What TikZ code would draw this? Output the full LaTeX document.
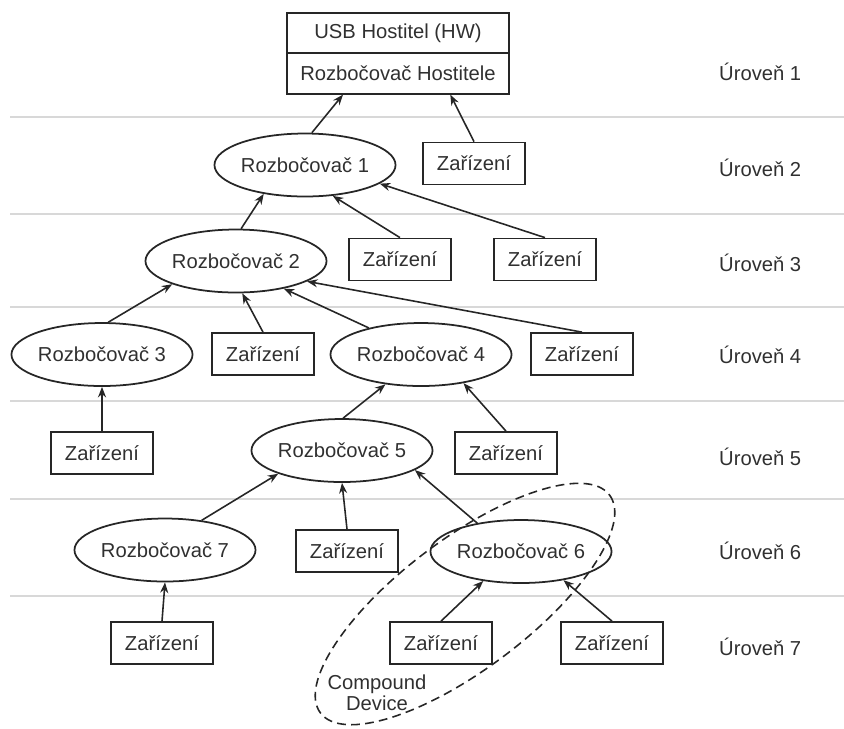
\documentclass[tikz,border=0pt]{standalone}
\usepackage{fontspec}
\setmainfont{Liberation Sans}
\usepackage{xcolor}
\usepackage{tikz}
\usetikzlibrary{positioning,shapes,arrows,arrows.meta}

\definecolor{ink}{HTML}{262626}
\definecolor{txt}{HTML}{303030}
\definecolor{rule}{HTML}{D8D8D8}

\begin{document}
\begin{tikzpicture}[x=0.02cm, y=-0.02cm, >={Stealth[length=6pt,width=4.6pt]}, auto,
    every node/.style={font=\fontsize{11.5}{12}\selectfont, text=txt},
    hub/.style={draw=ink, line width=1pt, ellipse, minimum width=3.12cm, minimum height=1.26cm, inner sep=0pt},
    dev/.style={draw=ink, line width=1pt, rectangle, minimum width=2.04cm, minimum height=0.84cm, inner sep=0pt},
    hostbox/.style={draw=ink, line width=1pt, rectangle, minimum width=4.44cm, minimum height=0.81cm, inner sep=0pt},
    link/.style={->, draw=ink, line width=0.9pt},
    band/.style={draw=rule, line width=0.8pt},
    level/.style={anchor=west}]
            \useasboundingbox (0,0) rectangle (844,728);

            % level bands
            \foreach \y in {117,214,307,401,499,596}
                \draw[band] (10,\y) -- (844,\y);
            \foreach \n/\y in {1/72,2/168,3/263,4/355,5/457,6/551,7/647}
                \node[level] (lvl\n) at (713,\y) {Úroveň \n};

            \node[hostbox] (hosthw) at (398,33) {USB Hostitel (HW)};
            \node[hostbox] (roothub) at (398,73.5) {Rozbočovač Hostitele};

            \node[hub] (hub1) at (305,165) {Rozbočovač 1};
            \node[dev] (dev2) at (474,163.5) {Zařízení};

            \node[hub] (hub2) at (236,261) {Rozbočovač 2};
            \node[dev] (dev3a) at (400,259.5) {Zařízení};
            \node[dev] (dev3b) at (545,259.5) {Zařízení};

            \node[hub] (hub3) at (102,354.5) {Rozbočovač 3};
            \node[dev] (dev4a) at (263,354) {Zařízení};
            \node[hub] (hub4) at (421,354.5) {Rozbočovač 4};
            \node[dev] (dev4b) at (582,354) {Zařízení};

            \node[dev] (dev5a) at (102,453) {Zařízení};
            \node[hub] (hub5) at (342,450.5) {Rozbočovač 5};
            \node[dev] (dev5b) at (506,453) {Zařízení};

            \node[hub] (hub7) at (165,550) {Rozbočovač 7};
            \node[dev] (dev6a) at (347,551) {Zařízení};
            \node[hub] (hub6) at (521,551.5) {Rozbočovač 6};

            \node[dev] (dev7a) at (162,643) {Zařízení};
            \node[dev] (dev7b) at (441,643) {Zařízení};
            \node[dev] (dev7c) at (612,643) {Zařízení};

            \draw[link] (hub1.78) -- (roothub.201);
            \draw[link] (dev2.north) -- (roothub.338);
            \draw[link] (hub2.81) -- (hub1.215);
            \draw[link] (dev3a.north) -- (hub1.312);
            \draw[link] (dev3b.north) -- (hub1.346);
            \draw[link] (hub3.79) -- (hub2.200);
            \draw[link] (dev4a.north) -- (hub2.281);
            \draw[link] (hub4.153) -- (hub2.330);
            \draw[link] (dev4b.north) -- (hub2.344);
            \draw[link] (dev5a.north) -- (hub3.south);
            \draw[link] (hub5.88) -- (hub4.220);
            \draw[link] (dev5b.north) -- (hub4.326);
            \draw[link] (hub7.39) -- (hub5.200);
            \draw[link] (dev6a.north) -- (hub5.south);
            \draw[link] (hub6.147) -- (hub5.345);
            \draw[link] (dev7a.north) -- (hub7.south);
            \draw[link] (dev7b.north) -- (hub6.218);
            \draw[link] (dev7c.north) -- (hub6.326);

            % compound device
            \draw[ink, line width=0.9pt, dash pattern=on 5pt off 3pt, rotate around={37:(465,604)}]
                (465,604) ellipse [x radius=181, y radius=65];
            \node[align=center] (compound) at (377,693) {Compound\\Device};
        \end{tikzpicture}
\end{document}
